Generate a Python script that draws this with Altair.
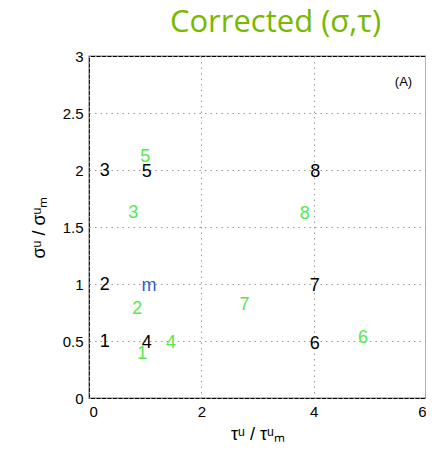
import altair as alt
import pandas as pd

labels = ["1", "2", "3", "4", "5", "6", "7", "8",
          "1", "2", "3", "4", "5", "6", "7", "8", "m"]
tau = [0.28, 0.28, 0.28, 1.03, 1.03, 4.02, 4.02, 4.03,
       0.95, 0.86, 0.79, 1.46, 1.00, 4.88, 2.77, 3.84, 1.07]
sigma = [0.49, 0.99, 1.99, 0.48, 1.98, 0.47, 0.98, 1.98,
         0.39, 0.78, 1.62, 0.48, 2.11, 0.53, 0.82, 1.61, 0.98]
group = ["original"] * 8 + ["corrected"] * 8 + ["mean"]

df = pd.DataFrame({"label": labels, "tau": tau, "sigma": sigma, "group": group})

FONT = "Liberation Sans"

x = alt.X("tau:Q", scale=alt.Scale(domain=[0, 6], nice=False),
          axis=alt.Axis(values=[0, 2, 4, 6], format="~g", title="τᵘ / τᵘₘ"))
y = alt.Y("sigma:Q", scale=alt.Scale(domain=[0, 3], nice=False),
          axis=alt.Axis(values=[0, 0.5, 1, 1.5, 2, 2.5, 3], format="~g", title="σᵘ / σᵘₘ"))

pts = alt.Chart(df).mark_text(font=FONT, fontSize=18).encode(
    x=x, y=y, text="label:N",
    color=alt.Color("group:N",
                    scale=alt.Scale(domain=["original", "corrected", "mean"],
                                    range=["#000000", "#55e84a", "#1f5fd6"]),
                    legend=None),
)

tag = alt.Chart(pd.DataFrame({"t": ["(A)"], "x": [5.6], "y": [2.77]})).mark_text(
    font=FONT, fontSize=13, color="black").encode(
    x=alt.X("x:Q"), y=alt.Y("y:Q"), text="t:N")

chart = (pts + tag).properties(
    width=337, height=342,
    autosize=alt.AutoSizeParams(type="none"),
    padding={"left": 81, "top": 48, "right": 0, "bottom": 56},
    title=alt.TitleParams("Corrected (σ,τ)", font="Open Sans", fontSize=31,
                          fontWeight="normal", color="#76b900", dx=18, offset=10),
).configure_view(stroke="#000000", strokeWidth=1.2).configure_axis(
    labelFont=FONT, labelFontSize=15, labelColor="black",
    titleFont=FONT, titleFontSize=18, titleFontWeight="normal", titleColor="black",
    grid=True, gridDash=[1.5, 4], gridColor="#999999", gridWidth=1,
    ticks=False, domain=False, labelPadding=6,
).configure_axisY(titlePadding=14).configure_axisX(titlePadding=6)

chart.save("out.html", embed_options={"renderer": "svg", "actions": False})
